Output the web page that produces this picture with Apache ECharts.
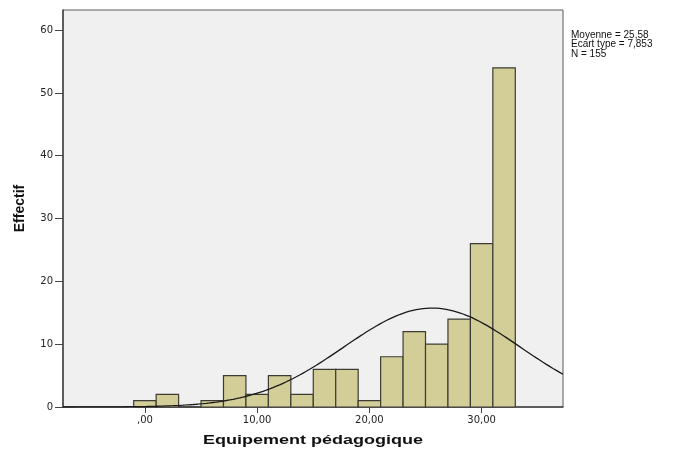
<!DOCTYPE html>
<html>
<head>
<meta charset="utf-8">
<script src="https://cdn.jsdelivr.net/npm/echarts@6/dist/echarts.min.js"></script>
<style>
  html, body { margin: 0; padding: 0; background: #ffffff; }
  #chart { width: 678px; height: 450px; }
</style>
</head>
<body>
<div id="chart"></div>
<script>
// Histogram of "Equipement pédagogique" with fitted normal curve
const BIN_WIDTH = 2;
const BIN_CENTERS = [0, 2, 4, 6, 8, 10, 12, 14, 16, 18, 20, 22, 24, 26, 28, 30, 32];
const COUNTS      = [1, 2, 0, 1, 5, 2, 5, 2, 6, 6, 1, 8, 12, 10, 14, 26, 54];

const MEAN = 25.58;
const SD = 7.853;
const N = 155;

const X_TICKS = [0, 10, 20, 30];
const Y_TICKS = [0, 10, 20, 30, 40, 50, 60];
const X_MIN = -7.3, X_MAX = 37.25;
const Y_MAX = 63.2;

const X_TITLE = 'Equipement pédagogique';
const Y_TITLE = 'Effectif';
const STATS_LINES = ['Moyenne = 25,58', 'Ecart type = 7,853', 'N = 155'];

const barData = BIN_CENTERS.map((c, i) => [c - BIN_WIDTH / 2, c + BIN_WIDTH / 2, COUNTS[i]]);

// Normal density scaled to counts per bin (mean and SD from the stats box)
const curveData = [];
const step = (X_MAX - X_MIN) / 300;
for (let k = 0; k <= 300; k++) {
  const x = X_MIN + k * step;
  const z = (x - MEAN) / SD;
  const y = N * BIN_WIDTH * Math.exp(-0.5 * z * z) / (SD * Math.sqrt(2 * Math.PI));
  curveData.push([x, y]);
}

const fmtX = v => (v === 0 ? ',00' : v.toFixed(2).replace('.', ','));

// Wide bold title: measure and stretch horizontally to the desired width
const TITLE_FONT = 'bold 12px "Liberation Sans", Arial, sans-serif';
const ctx = document.createElement('canvas').getContext('2d');
ctx.font = TITLE_FONT;
const titleScaleX = 220 / ctx.measureText(X_TITLE).width;

const LABEL_FONT = 'DejaVu Sans, Verdana, sans-serif';

const chart = echarts.init(document.getElementById('chart'), null, { renderer: 'canvas' });
chart.setOption({
  animation: false,
  textStyle: { fontFamily: 'Liberation Sans, Arial, sans-serif' },
  grid: {
    left: 63, right: 115, top: 10, bottom: 43,
    show: true, backgroundColor: '#f0f0f0', borderColor: '#5a5a5a', borderWidth: 1
  },
  xAxis: {
    type: 'value', min: X_MIN, max: X_MAX,
    splitLine: { show: false },
    axisLine: { show: true, onZero: false, lineStyle: { color: '#444', width: 1.5 } },
    axisTick: { show: true, customValues: X_TICKS, length: 6, lineStyle: { color: '#444' } },
    axisLabel: { customValues: X_TICKS, formatter: fmtX, fontSize: 10, color: '#222', margin: 8, fontFamily: LABEL_FONT }
  },
  yAxis: {
    type: 'value', min: 0, max: Y_MAX,
    name: Y_TITLE, nameLocation: 'middle', nameGap: 36, nameRotate: 90,
    nameTextStyle: { fontSize: 14, fontWeight: 'bold', color: '#111' },
    splitLine: { show: false },
    axisLine: { show: true, onZero: false, lineStyle: { color: '#444', width: 1.5 } },
    axisTick: { show: true, customValues: Y_TICKS, length: 8, lineStyle: { color: '#444' } },
    axisLabel: { customValues: Y_TICKS, fontSize: 10, color: '#222', margin: 10, fontFamily: LABEL_FONT }
  },
  series: [
    {
      type: 'custom',
      data: barData,
      encode: { x: [0, 1], y: 2 },
      renderItem: (params, api) => {
        const p0 = api.coord([api.value(0), 0]);
        const p1 = api.coord([api.value(1), api.value(2)]);
        return {
          type: 'rect',
          shape: { x: p0[0], y: p1[1], width: p1[0] - p0[0], height: p0[1] - p1[1] },
          style: { fill: '#d3ce98', stroke: '#3c3c34', lineWidth: 1.2 }
        };
      },
      z: 2
    },
    {
      type: 'line',
      data: curveData,
      showSymbol: false,
      lineStyle: { color: '#1a1a1a', width: 1.3 },
      z: 3
    }
  ],
  graphic: [
    {
      type: 'text', x: 313, y: 441, scaleX: titleScaleX,
      style: {
        text: X_TITLE, font: TITLE_FONT, fill: '#111',
        align: 'center', verticalAlign: 'middle'
      }
    },
    {
      type: 'text', left: 571, top: 30,
      style: {
        text: STATS_LINES.join('\n'),
        fontSize: 10, lineHeight: 9.5, fill: '#111',
        fontFamily: 'Liberation Sans, Arial, sans-serif'
      }
    }
  ]
});
</script>
</body>
</html>
